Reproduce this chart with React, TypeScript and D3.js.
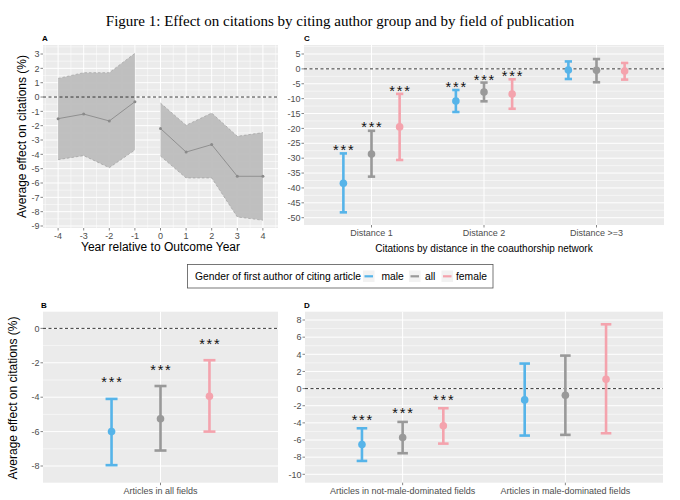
import React, { useEffect, useRef } from "react";
import * as d3 from "d3";

// groups (legend order) and their colours
const groups = ["male", "all", "female"];
const groupColors = ["#56B4E9", "#999999", "#F4A3AD"];

// Panel A: event study
const yearsA = [-4, -3, -2, -1, 0, 1, 2, 3, 4];
const estA = [-1.51, -1.19, -1.67, -0.33, -2.2, -3.84, -3.32, -5.53, -5.53];
const upperA = [1.3, 1.7, 1.7, 3.05, -0.42, -1.97, -1.12, -2.74, -2.48];
const lowerA = [-4.37, -4.09, -4.93, -3.7, -4.12, -5.65, -5.65, -8.37, -8.6];
const ticksAX = [-4, -3, -2, -1, 0, 1, 2, 3, 4];
const ticksAY = [3, 2, 1, 0, -1, -2, -3, -4, -5, -6, -7, -8, -9];

// Panel B: all fields (rows = category, columns = male, all, female)
const catsB = ["Articles in all fields"];
const estB = [[-6.0, -5.25, -3.95]];
const lowB = [[-7.95, -7.1, -6.0]];
const highB = [[-4.1, -3.35, -1.85]];
const starB = [[-2.9, -2.19, -0.68]];
const ticksBY = [0, -2, -4, -6, -8];

// Panel C: distance in coauthorship network
const catsC = ["Distance 1", "Distance 2", "Distance >=3"];
const estC = [[-38.4, -28.6, -19.5], [-10.8, -7.8, -8.45], [-0.4, -0.5, -0.7]];
const lowC = [[-48.2, -36.2, -30.6], [-14.5, -10.9, -13.4], [-3.4, -4.5, -3.6]];
const highC = [[-28.4, -20.8, -8.4], [-7.1, -4.6, -3.5], [2.5, 3.3, 2.0]];
const starC = [[-26.1, -18.5, -6.2], [-4.9, -2.4, -1.3], null];
const ticksCY = [5, 0, -5, -10, -15, -20, -25, -30, -35, -40, -45, -50];

// Panel D: by field gender composition
const catsD = ["Articles in not-male-dominated fields", "Articles in male-dominated fields"];
const estD = [[-6.53, -5.72, -4.35], [-1.32, -0.78, 1.09]];
const lowD = [[-8.44, -7.54, -6.42], [-5.48, -5.4, -5.21]];
const highD = [[-4.63, -3.89, -2.29], [2.92, 3.85, 7.5]];
const starD = [[-3.23, -2.41, -0.93], null];
const ticksDY = [8, 6, 4, 2, 0, -2, -4, -6, -8, -10];

const FONT = "'Liberation Sans', Arial, Helvetica, sans-serif";
const TICK_COL = "#4D4D4D";

type Box = { x0: number; x1: number; y0: number; y1: number };

const App: React.FC = () => {
  const svgRef = useRef<SVGSVGElement>(null);

  useEffect(() => {
    const svg = d3.select(svgRef.current);
    svg.selectAll("*").remove();

    svg
      .append("text")
      .attr("x", 340)
      .attr("y", 26)
      .attr("text-anchor", "middle")
      .attr("font-family", "'Liberation Serif', 'Times New Roman', serif")
      .attr("font-size", 15)
      .text("Figure 1: Effect on citations by citing author group and by field of publication");

    const panelBg = (b: Box) => {
      svg
        .append("rect")
        .attr("x", b.x0)
        .attr("y", b.y0)
        .attr("width", b.x1 - b.x0)
        .attr("height", b.y1 - b.y0)
        .attr("fill", "#EBEBEB");
    };

    const hGrid = (b: Box, y: d3.ScaleLinear<number, number>, ticks: number[]) => {
      const step = Math.abs(ticks[1] - ticks[0]);
      const lo = d3.min(ticks)! - step / 2;
      const minors = d3.range(lo, d3.max(ticks)! + step, step).filter((v) => {
        const [a, c] = y.domain();
        return v >= Math.min(a, c) && v <= Math.max(a, c);
      });
      svg
        .append("g")
        .selectAll("line")
        .data(minors)
        .join("line")
        .attr("x1", b.x0)
        .attr("x2", b.x1)
        .attr("y1", (d) => y(d))
        .attr("y2", (d) => y(d))
        .attr("stroke", "#fff")
        .attr("stroke-width", 0.5);
      svg
        .append("g")
        .selectAll("line")
        .data(ticks)
        .join("line")
        .attr("x1", b.x0)
        .attr("x2", b.x1)
        .attr("y1", (d) => y(d))
        .attr("y2", (d) => y(d))
        .attr("stroke", "#fff")
        .attr("stroke-width", 1);
    };

    const yAxis = (b: Box, y: d3.ScaleLinear<number, number>, ticks: number[]) => {
      const g = svg.append("g");
      g.selectAll("line")
        .data(ticks)
        .join("line")
        .attr("x1", b.x0 - 2.5)
        .attr("x2", b.x0)
        .attr("y1", (d) => y(d))
        .attr("y2", (d) => y(d))
        .attr("stroke", "#333")
        .attr("stroke-width", 0.6);
      g.selectAll("text")
        .data(ticks)
        .join("text")
        .attr("x", b.x0 - 3.5)
        .attr("y", (d) => y(d) + 3.2)
        .attr("text-anchor", "end")
        .attr("font-family", FONT)
        .attr("font-size", 9)
        .attr("fill", TICK_COL)
        .text((d) => String(d));
    };

    const xTickLabels = (b: Box, xs: number[], labels: string[]) => {
      const g = svg.append("g");
      g.selectAll("line")
        .data(xs)
        .join("line")
        .attr("x1", (d) => d)
        .attr("x2", (d) => d)
        .attr("y1", b.y1)
        .attr("y2", b.y1 + 2.5)
        .attr("stroke", "#333")
        .attr("stroke-width", 0.6);
      g.selectAll("text")
        .data(xs)
        .join("text")
        .attr("x", (d) => d)
        .attr("y", b.y1 + 11)
        .attr("text-anchor", "middle")
        .attr("font-family", FONT)
        .attr("font-size", 9)
        .attr("fill", TICK_COL)
        .text((_, i) => labels[i]);
    };

    const zeroLine = (b: Box, y: d3.ScaleLinear<number, number>) => {
      svg
        .append("line")
        .attr("x1", b.x0)
        .attr("x2", b.x1)
        .attr("y1", y(0))
        .attr("y2", y(0))
        .attr("stroke", "#222")
        .attr("stroke-width", 0.9)
        .attr("stroke-dasharray", "3,2.5");
    };

    const panelLetter = (x: number, y: number, t: string) => {
      svg
        .append("text")
        .attr("x", x)
        .attr("y", y)
        .attr("font-family", FONT)
        .attr("font-size", 8)
        .attr("font-weight", "bold")
        .text(t);
    };

    const yTitle = (x: number, cy: number) => {
      svg
        .append("text")
        .attr("transform", `translate(${x},${cy}) rotate(-90)`)
        .attr("text-anchor", "middle")
        .attr("font-family", FONT)
        .attr("font-size", 12)
        .text("Average effect on citations (%)");
    };

    // discrete panels with dodged error bars
    const dotPanel = (
      b: Box,
      yDomain: [number, number],
      ticks: number[],
      cats: string[],
      est: number[][],
      low: number[][],
      high: number[][],
      stars: (number[] | null)[]
    ) => {
      const x = d3.scalePoint<string>().domain(cats).range([b.x0, b.x1]).padding(0.6);
      const y = d3.scaleLinear().domain(yDomain).range([b.y1, b.y0]);
      const step = x.step();
      panelBg(b);
      hGrid(b, y, ticks);
      svg
        .append("g")
        .selectAll("line")
        .data(cats)
        .join("line")
        .attr("x1", (d) => x(d)!)
        .attr("x2", (d) => x(d)!)
        .attr("y1", b.y0)
        .attr("y2", b.y1)
        .attr("stroke", "#fff")
        .attr("stroke-width", 1);
      zeroLine(b, y);

      const cap = Math.min(0.065 * step, 12);
      cats.forEach((c, ci) => {
        groups.forEach((_, gi) => {
          const cx = x(c)! + (gi - 1) * 0.25 * step;
          const col = groupColors[gi];
          const g = svg.append("g").attr("stroke", col).attr("stroke-width", 2.6);
          g.append("line").attr("x1", cx).attr("x2", cx).attr("y1", y(high[ci][gi])).attr("y2", y(low[ci][gi]));
          [high[ci][gi], low[ci][gi]].forEach((v) =>
            g.append("line").attr("x1", cx - cap / 2).attr("x2", cx + cap / 2).attr("y1", y(v)).attr("y2", y(v))
          );
          svg.append("circle").attr("cx", cx).attr("cy", y(est[ci][gi])).attr("r", 3.8).attr("fill", col);
          const s = stars[ci];
          if (s) {
            svg
              .append("text")
              .attr("x", cx + 0.9)
              .attr("y", y(s[gi]) + 8.5)
              .attr("text-anchor", "middle")
              .attr("font-family", FONT)
              .attr("font-size", 14.5)
              .attr("letter-spacing", 1.8)
              .attr("fill", "#111")
              .text("***");
          }
        });
      });
      yAxis(b, y, ticks);
      xTickLabels(b, cats.map((c) => x(c)!), cats);
    };

    // ---- Panel A
    const bA: Box = { x0: 43, x1: 278, y0: 45, y1: 228 };
    const xA = d3.scaleLinear().domain([-4.59, 4.59]).range([bA.x0, bA.x1]);
    const yA = d3.scaleLinear().domain([-9.14, 3.63]).range([bA.y1, bA.y0]);
    panelBg(bA);
    hGrid(bA, yA, ticksAY);
    const minorAX = d3.range(-4.5, 5, 1);
    svg
      .append("g")
      .selectAll("line")
      .data(minorAX)
      .join("line")
      .attr("x1", (d) => xA(d))
      .attr("x2", (d) => xA(d))
      .attr("y1", bA.y0)
      .attr("y2", bA.y1)
      .attr("stroke", "#fff")
      .attr("stroke-width", 0.5);
    svg
      .append("g")
      .selectAll("line")
      .data(ticksAX)
      .join("line")
      .attr("x1", (d) => xA(d))
      .attr("x2", (d) => xA(d))
      .attr("y1", bA.y0)
      .attr("y2", bA.y1)
      .attr("stroke", "#fff")
      .attr("stroke-width", 1);

    const idx = yearsA.map((_, i) => i);
    const segments = [idx.filter((i) => yearsA[i] < 0), idx.filter((i) => yearsA[i] >= 0)];
    const area = d3
      .area<number>()
      .x((i) => xA(yearsA[i]))
      .y0((i) => yA(lowerA[i]))
      .y1((i) => yA(upperA[i]));
    const line = d3.line<number>().x((i) => xA(yearsA[i]));
    segments.forEach((seg) => {
      svg.append("path").attr("d", area(seg)).attr("fill", "#BDBDBD").attr("opacity", 0.95);
      [upperA, lowerA].forEach((arr) =>
        svg
          .append("path")
          .attr("d", line.y((i) => yA(arr[i]))(seg))
          .attr("fill", "none")
          .attr("stroke", "#999")
          .attr("stroke-width", 0.6)
          .attr("stroke-dasharray", "2.5,2")
      );
      svg
        .append("path")
        .attr("d", line.y((i) => yA(estA[i]))(seg))
        .attr("fill", "none")
        .attr("stroke", "#8A8A8A")
        .attr("stroke-width", 0.9);
      svg
        .append("g")
        .selectAll("circle")
        .data(seg)
        .join("circle")
        .attr("cx", (i) => xA(yearsA[i]))
        .attr("cy", (i) => yA(estA[i]))
        .attr("r", 1.5)
        .attr("fill", "#8A8A8A");
    });
    zeroLine(bA, yA);
    yAxis(bA, yA, ticksAY);
    xTickLabels(bA, ticksAX.map((d) => xA(d)), ticksAX.map((d) => String(d)));
    svg
      .append("text")
      .attr("x", (bA.x0 + bA.x1) / 2)
      .attr("y", 251)
      .attr("text-anchor", "middle")
      .attr("font-family", FONT)
      .attr("font-size", 12)
      .text("Year relative to Outcome Year");
    yTitle(26, (bA.y0 + bA.y1) / 2);
    panelLetter(42, 41, "A");

    // ---- Panel C
    const bC: Box = { x0: 304, x1: 664, y0: 45, y1: 225 };
    dotPanel(bC, [-52.45, 8.02], ticksCY, catsC, estC, lowC, highC, starC);
    svg
      .append("text")
      .attr("x", (bC.x0 + bC.x1) / 2)
      .attr("y", 252)
      .attr("text-anchor", "middle")
      .attr("font-family", FONT)
      .attr("font-size", 10)
      .text("Citations by distance in the coauthorship network");
    panelLetter(304, 41, "C");

    // ---- Legend
    const lg = svg.append("g");
    lg.append("rect")
      .attr("x", 187.5)
      .attr("y", 264.5)
      .attr("width", 305.5)
      .attr("height", 23.5)
      .attr("fill", "#fff")
      .attr("stroke", "#555")
      .attr("stroke-width", 0.8);
    lg.append("text")
      .attr("x", 195)
      .attr("y", 280)
      .attr("font-family", FONT)
      .attr("font-size", 10.3)
      .attr("textLength", 166)
      .text("Gender of first author of citing article");
    const keyX = [363, 409, 441.5];
    const labX = [381.5, 425, 456];
    groups.forEach((gname, gi) => {
      lg.append("rect").attr("x", keyX[gi]).attr("y", 270.5).attr("width", 11.5).attr("height", 11.5).attr("fill", "#F2F2F2");
      lg.append("line")
        .attr("x1", keyX[gi] + 1.5)
        .attr("x2", keyX[gi] + 10)
        .attr("y1", 276.3)
        .attr("y2", 276.3)
        .attr("stroke", groupColors[gi])
        .attr("stroke-width", 2.2);
      lg.append("text")
        .attr("x", labX[gi])
        .attr("y", 280)
        .attr("font-family", FONT)
        .attr("font-size", 10.3)
        .text(gname);
    });

    // ---- Panel B
    const bB: Box = { x0: 43, x1: 278, y0: 311.7, y1: 482.7 };
    dotPanel(bB, [-8.97, 0.97], ticksBY, catsB, estB, lowB, highB, starB);
    yTitle(17, 398);
    panelLetter(41, 308, "B");

    // ---- Panel D
    const bD: Box = { x0: 305, x1: 663, y0: 311.7, y1: 482.7 };
    dotPanel(bD, [-10.98, 8.97], ticksDY, catsD, estD, lowD, highD, starD);
    panelLetter(304, 308, "D");
  }, []);

  return (
    <svg
      ref={svgRef}
      width={680}
      height={500}
      style={{ position: "absolute", left: 0, top: 0, background: "#fff" }}
    />
  );
};

export default App;
